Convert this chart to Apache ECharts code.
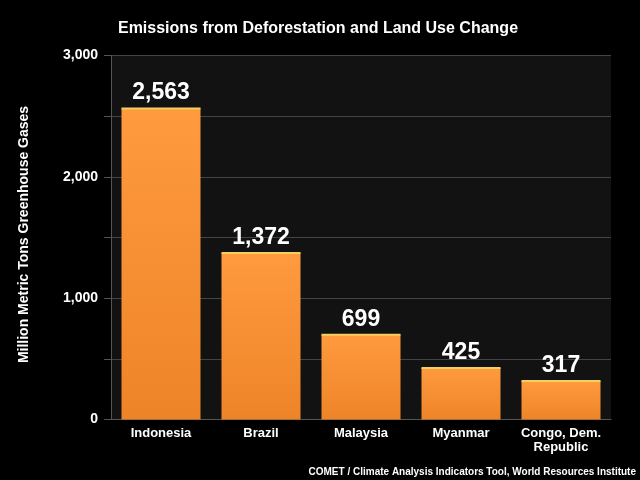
<!DOCTYPE html>
<html><head><meta charset="utf-8">
<style>html,body{margin:0;padding:0;background:#000}#c{width:640px;height:480px}</style>
<script src="https://cdn.jsdelivr.net/npm/echarts@6/dist/echarts.min.js"></script>
</head><body><div id="c"></div>
<script>
const categories = ['Indonesia','Brazil','Malaysia','Myanmar','Congo, Dem.\nRepublic'];
const values = [2563,1372,699,425,317];
const font = 'Liberation Sans';
const fmt = v => v.toLocaleString('en-US');
const chart = echarts.init(document.getElementById('c'), null, {renderer:'canvas'});
chart.setOption({
  backgroundColor:'#000',
  animation:false,
  title:[
    {text:'Emissions from Deforestation and Land Use Change',left:313,top:16,textAlign:'center',
     textStyle:{color:'#fff',fontFamily:font,fontWeight:'bold',fontSize:16}},
    {text:'COMET / Climate Analysis Indicators Tool, World Resources Institute',right:-1,top:462,
     textStyle:{color:'#fff',fontFamily:font,fontWeight:'bold',fontSize:10}}
  ],
  grid:{left:111,right:29,top:55.5,bottom:60.5,show:true,backgroundColor:'#121212',borderWidth:0},
  xAxis:{type:'category',data:categories,
    axisLine:{show:true,lineStyle:{color:'#555',width:1}},
    axisTick:{show:false},
    splitLine:{show:false},
    axisLabel:{color:'#fff',fontFamily:font,fontWeight:'bold',fontSize:13,margin:7,lineHeight:14,interval:0}},
  yAxis:{type:'value',min:0,max:3000,interval:500,
    name:'Million Metric Tons Greenhouse Gases',nameLocation:'middle',nameGap:80,nameRotate:90,
    nameTextStyle:{color:'#fff',fontFamily:font,fontWeight:'bold',fontSize:14,padding:[0,0,0,6]},
    axisLine:{show:true,lineStyle:{color:'#555',width:1}},
    axisTick:{show:true,length:7,lineStyle:{color:'#555',width:1}},
    splitLine:{show:true,lineStyle:{color:'#444',width:1}},
    axisLabel:{color:'#fff',fontFamily:font,fontWeight:'bold',fontSize:14,margin:13,
      formatter:v=>v%1000===0?fmt(v):''}},
  series:[
    {type:'bar',data:values,barWidth:79,
     itemStyle:{color:new echarts.graphic.LinearGradient(0,0,0,1,[{offset:0,color:'#ff9a3f'},{offset:1,color:'#ee8428'}])},
     label:{show:true,position:'top',distance:4,color:'#fff',fontFamily:font,fontWeight:'bold',fontSize:23,formatter:p=>fmt(p.value)},
     z:2},
    {type:'pictorialBar',data:values,symbol:'rect',symbolSize:[79,2],symbolPosition:'end',symbolOffset:[0,'-50%'],barGap:'-100%',
     itemStyle:{color:'#f2d060'},z:3,silent:true}
  ]
});
</script></body></html>
